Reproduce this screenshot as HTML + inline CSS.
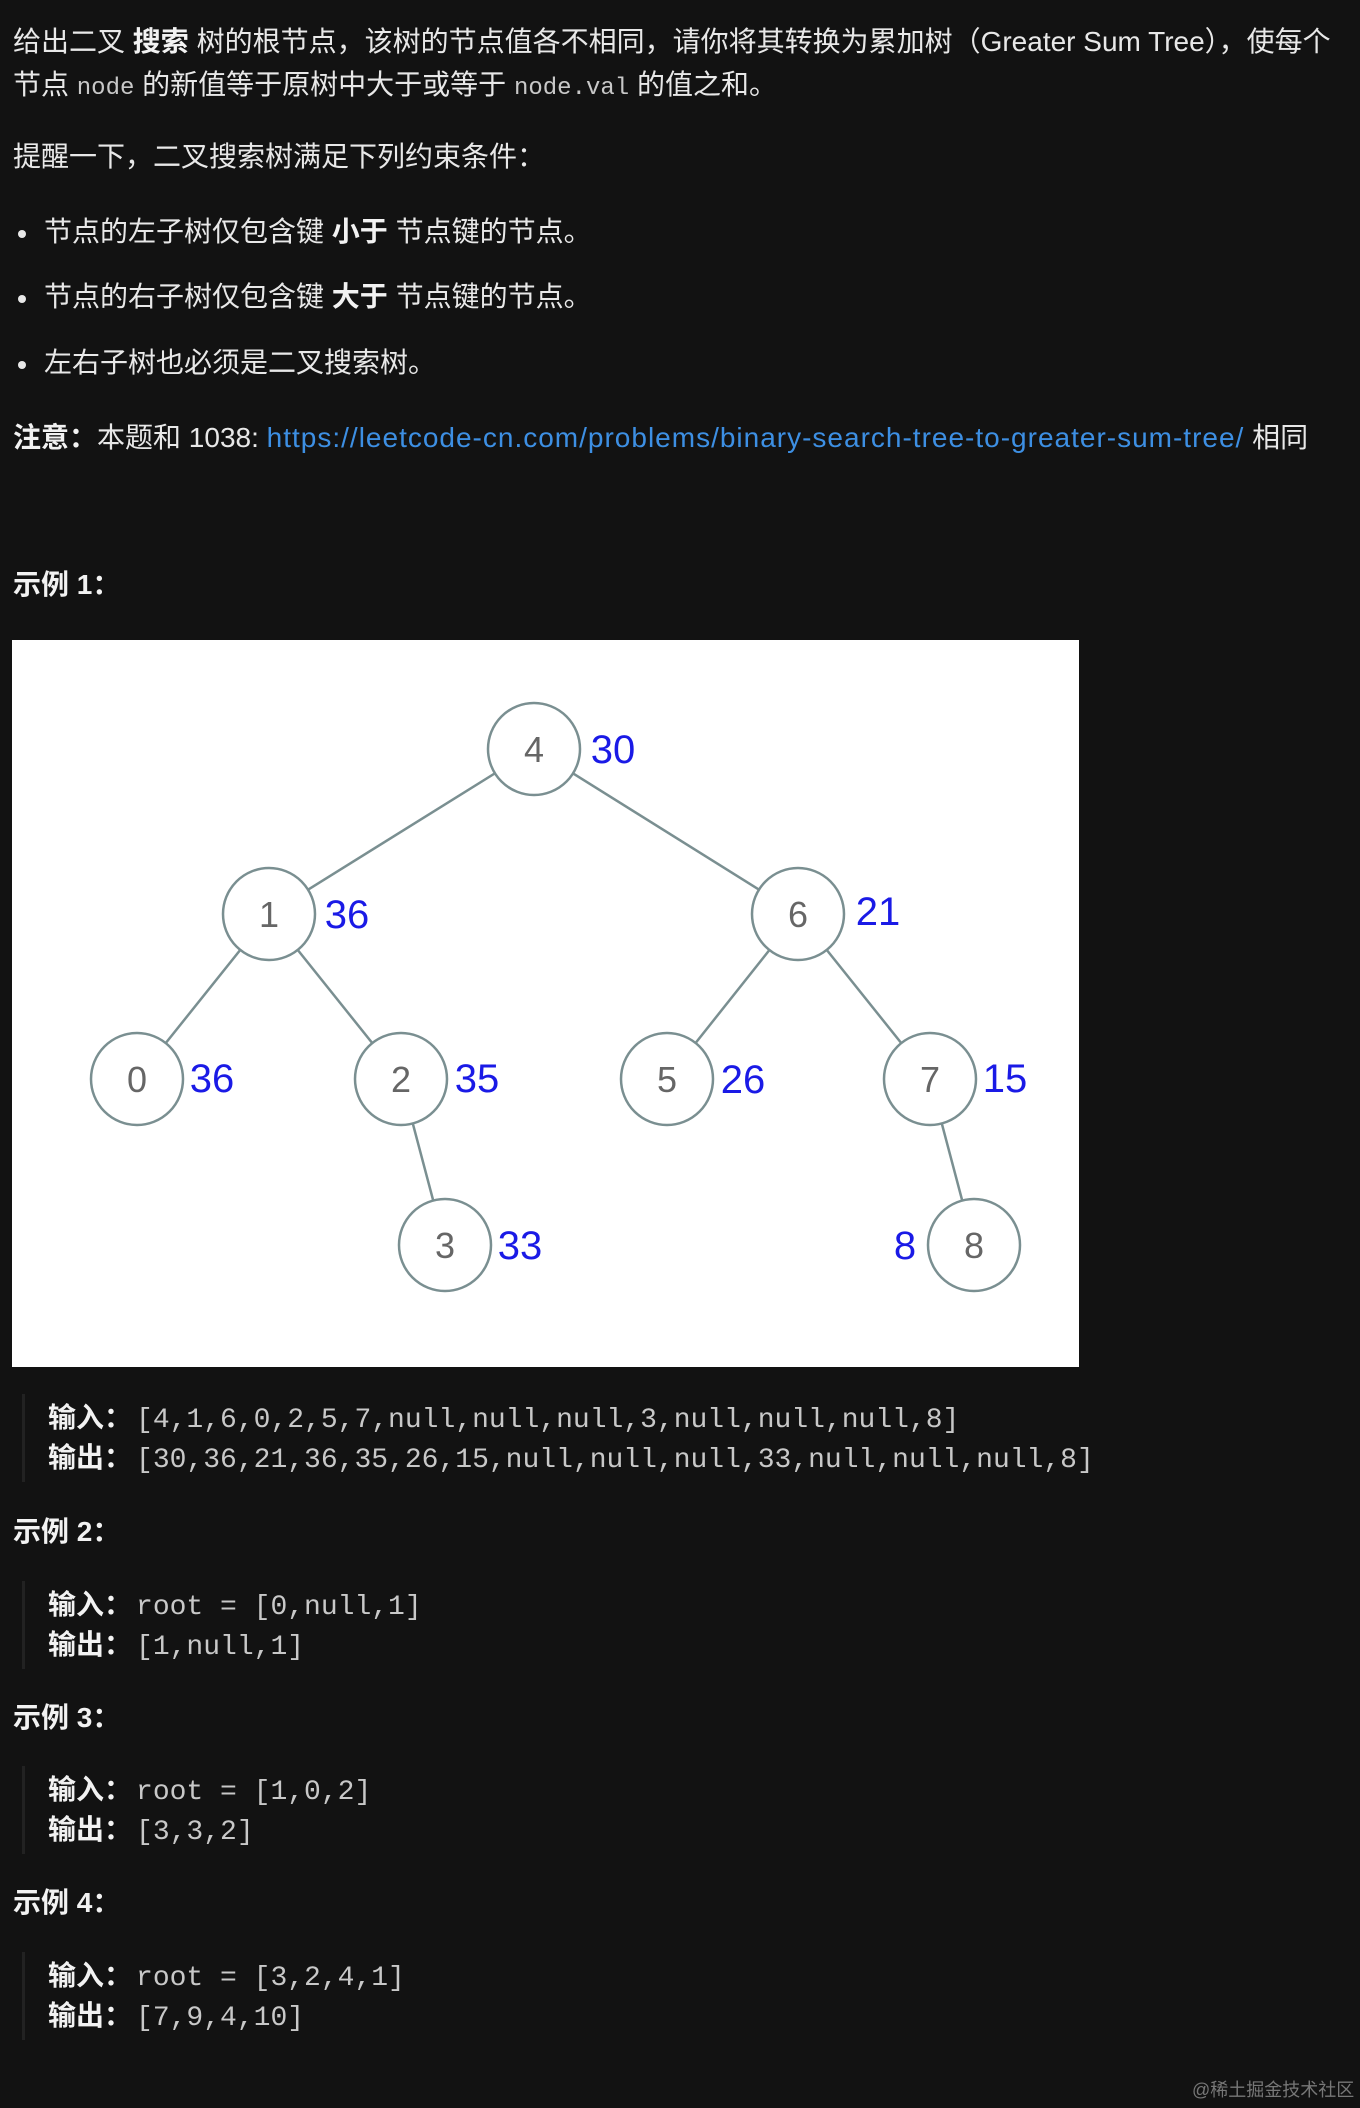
<!DOCTYPE html>
<html><head><meta charset="utf-8"><style>
html,body{margin:0;padding:0;}
body{width:1360px;height:2108px;background:#121212;position:relative;overflow:hidden;font-family:"Liberation Sans","Noto Sans CJK SC",sans-serif;color:#e8e8e8;font-size:28px;}
.l{position:absolute;left:13px;height:36px;line-height:36px;white-space:nowrap;}
code,.m{font-family:"Liberation Mono","Noto Sans CJK SC",monospace;}
code{font-size:24px;color:#c8c8c8;}
b{font-weight:bold;color:#f2f2f2;}
a{color:#3d8fe3;text-decoration:none;letter-spacing:1px;}
.dot{display:inline-block;width:8px;height:8px;border-radius:50%;background:#e8e8e8;vertical-align:middle;margin:0 18px 0 8px;}
.bar{position:absolute;left:22px;width:3px;background:#222;}
.c{position:absolute;left:48px;height:40px;line-height:40px;white-space:nowrap;}
.c .m{font-size:28px;color:#c8c8c8;}
.c .h{font-size:28px;margin-right:4px;}
.h{font-weight:bold;color:#f2f2f2;}
</style></head><body>
<div class="l" style="top:24px">给出二叉 <b>搜索</b> 树的根节点，该树的节点值各不相同，请你将其转换为累加树（Greater Sum Tree），使每个</div>
<div class="l" style="top:67px">节点 <code>node</code> 的新值等于原树中大于或等于 <code>node.val</code> 的值之和。</div>
<div class="l" style="top:139px">提醒一下，二叉搜索树满足下列约束条件：</div>
<div class="l" style="top:214px;left:10px"><span class="dot"></span>节点的左子树仅包含键 <b>小于</b> 节点键的节点。</div>
<div class="l" style="top:279px;left:10px"><span class="dot"></span>节点的右子树仅包含键 <b>大于</b> 节点键的节点。</div>
<div class="l" style="top:345px;left:10px"><span class="dot"></span>左右子树也必须是二叉搜索树。</div>
<div class="l" style="top:420px"><b>注意：</b>本题和 1038: <a>https://leetcode-cn.com/problems/binary-search-tree-to-greater-sum-tree/</a> 相同</div>
<div class="l h" style="top:567px">示例 1：</div>
<svg style="position:absolute;left:0;top:0" width="1360" height="1400">
<rect x="12" y="640" width="1067" height="727" fill="#fff"/>
<g stroke="#7a8f91" stroke-width="2.5" fill="none">
<line x1="534" y1="749" x2="269" y2="914"/><line x1="534" y1="749" x2="798" y2="914"/>
<line x1="269" y1="914" x2="137" y2="1079"/><line x1="269" y1="914" x2="401" y2="1079"/>
<line x1="798" y1="914" x2="667" y2="1079"/><line x1="798" y1="914" x2="930" y2="1079"/>
<line x1="401" y1="1079" x2="445" y2="1245"/><line x1="930" y1="1079" x2="974" y2="1245"/>
</g>
<g stroke="#7a8f91" stroke-width="2.5" fill="#fff">
<circle cx="534" cy="749" r="46"/><circle cx="269" cy="914" r="46"/><circle cx="798" cy="914" r="46"/>
<circle cx="137" cy="1079" r="46"/><circle cx="401" cy="1079" r="46"/><circle cx="667" cy="1079" r="46"/>
<circle cx="930" cy="1079" r="46"/><circle cx="445" cy="1245" r="46"/><circle cx="974" cy="1245" r="46"/>
</g>
<g font-family="Liberation Sans, sans-serif" font-size="36" fill="#666" text-anchor="middle">
<text x="534" y="762">4</text><text x="269" y="927">1</text><text x="798" y="927">6</text>
<text x="137" y="1092">0</text><text x="401" y="1092">2</text><text x="667" y="1092">5</text>
<text x="930" y="1092">7</text><text x="445" y="1258">3</text><text x="974" y="1258">8</text>
</g>
<g font-family="Liberation Sans, sans-serif" font-size="40" fill="#1a1ae6" text-anchor="middle">
<text x="613" y="763">30</text><text x="347" y="928">36</text><text x="878" y="925">21</text>
<text x="212" y="1092">36</text><text x="477" y="1092">35</text><text x="743" y="1093">26</text>
<text x="1005" y="1092">15</text><text x="520" y="1259">33</text><text x="905" y="1259">8</text>
</g>
</svg>
<div class="bar" style="top:1394px;height:88px"></div>
<div class="c" style="top:1398px"><span class="h">输入：</span><span class="m">[4,1,6,0,2,5,7,null,null,null,3,null,null,null,8]</span></div>
<div class="c" style="top:1438px"><span class="h">输出：</span><span class="m">[30,36,21,36,35,26,15,null,null,null,33,null,null,null,8]</span></div>
<div class="l h" style="top:1514px">示例 2：</div>
<div class="bar" style="top:1581px;height:88px"></div>
<div class="c" style="top:1585px"><span class="h">输入：</span><span class="m">root = [0,null,1]</span></div>
<div class="c" style="top:1625px"><span class="h">输出：</span><span class="m">[1,null,1]</span></div>
<div class="l h" style="top:1700px">示例 3：</div>
<div class="bar" style="top:1766px;height:88px"></div>
<div class="c" style="top:1770px"><span class="h">输入：</span><span class="m">root = [1,0,2]</span></div>
<div class="c" style="top:1810px"><span class="h">输出：</span><span class="m">[3,3,2]</span></div>
<div class="l h" style="top:1885px">示例 4：</div>
<div class="bar" style="top:1952px;height:88px"></div>
<div class="c" style="top:1956px"><span class="h">输入：</span><span class="m">root = [3,2,4,1]</span></div>
<div class="c" style="top:1996px"><span class="h">输出：</span><span class="m">[7,9,4,10]</span></div>
<div style="position:absolute;left:1192px;top:2076px;font-size:18px;color:#777;white-space:nowrap">@稀土掘金技术社区</div>
</body></html>
